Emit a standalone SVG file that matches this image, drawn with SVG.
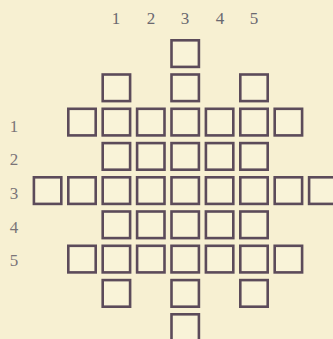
<svg xmlns="http://www.w3.org/2000/svg" width="333" height="339" viewBox="0 0 333 339">
<style>
.bg{fill:#f7f0d2}
.sq{fill:#f9f3d8;stroke:#5c4b5a;stroke-width:2.6}
.lb{font-family:"Liberation Serif","Times New Roman",serif;font-size:17px;fill:#6a6870;text-anchor:middle}
.ll{fill:#7a7478}
</style>
<defs>
<rect id="s" class="sq" x="1.3" y="1.3" width="27.4" height="26.6"/>
</defs>
<rect class="bg" x="0" y="0" width="333" height="339"/>
<g id="col-labels">
<text class="lb" x="116" y="24">1</text>
<text class="lb" x="151" y="24">2</text>
<text class="lb" x="185" y="24">3</text>
<text class="lb" x="220" y="24">4</text>
<text class="lb" x="254" y="24">5</text>
</g>
<g id="row-labels">
<text class="lb ll" x="14" y="132">1</text>
<text class="lb ll" x="14" y="165">2</text>
<text class="lb ll" x="14" y="199">3</text>
<text class="lb ll" x="14" y="233">4</text>
<text class="lb ll" x="14" y="266">5</text>
</g>
<g id="rowA"><use href="#s" x="170.2" y="39"/></g>
<g id="rowB">
<use href="#s" x="101.4" y="73.2"/><use href="#s" x="170.2" y="73.2"/><use href="#s" x="239" y="73.2"/>
</g>
<g id="row1">
<use href="#s" x="67" y="107.5"/><use href="#s" x="101.4" y="107.5"/><use href="#s" x="135.8" y="107.5"/><use href="#s" x="170.2" y="107.5"/><use href="#s" x="204.6" y="107.5"/><use href="#s" x="239" y="107.5"/><use href="#s" x="273.4" y="107.5"/>
</g>
<g id="row2">
<use href="#s" x="101.4" y="141.8"/><use href="#s" x="135.8" y="141.8"/><use href="#s" x="170.2" y="141.8"/><use href="#s" x="204.6" y="141.8"/><use href="#s" x="239" y="141.8"/>
</g>
<g id="row3">
<use href="#s" x="32.6" y="176"/><use href="#s" x="67" y="176"/><use href="#s" x="101.4" y="176"/><use href="#s" x="135.8" y="176"/><use href="#s" x="170.2" y="176"/><use href="#s" x="204.6" y="176"/><use href="#s" x="239" y="176"/><use href="#s" x="273.4" y="176"/><use href="#s" x="307.8" y="176"/>
</g>
<g id="row4">
<use href="#s" x="101.4" y="210.2"/><use href="#s" x="135.8" y="210.2"/><use href="#s" x="170.2" y="210.2"/><use href="#s" x="204.6" y="210.2"/><use href="#s" x="239" y="210.2"/>
</g>
<g id="row5">
<use href="#s" x="67" y="244.5"/><use href="#s" x="101.4" y="244.5"/><use href="#s" x="135.8" y="244.5"/><use href="#s" x="170.2" y="244.5"/><use href="#s" x="204.6" y="244.5"/><use href="#s" x="239" y="244.5"/><use href="#s" x="273.4" y="244.5"/>
</g>
<g id="rowC">
<use href="#s" x="101.4" y="278.8"/><use href="#s" x="170.2" y="278.8"/><use href="#s" x="239" y="278.8"/>
</g>
<g id="rowD"><use href="#s" x="170.2" y="313"/></g>
</svg>
